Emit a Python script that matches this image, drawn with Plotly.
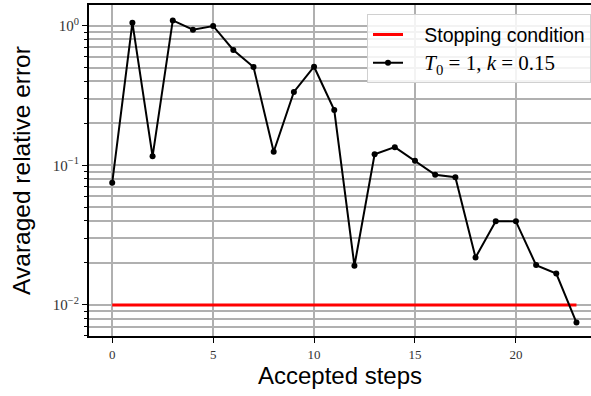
import plotly.graph_objects as go

steps = list(range(24))
errors = [0.075, 1.05, 0.116, 1.09, 0.936, 0.995, 0.67, 0.506, 0.125, 0.335,
          0.508, 0.249, 0.0191, 0.120, 0.135, 0.108, 0.0855, 0.0823, 0.0219,
          0.0398, 0.0397, 0.0193, 0.0168, 0.00748]
stop_x = [0, 23]
stop_y = [0.01, 0.01]
ytick_vals = [0.01, 0.1, 1]
ytick_text = ["10<sup>\u22122</sup>", "10<sup>\u22121</sup>", "10<sup>0</sup>"]
xtick_vals = [0, 5, 10, 15, 20]

serif = "Liberation Serif"
pad = "\u00a0\u00a0\u00a0"
fig = go.Figure()
fig.add_trace(go.Scatter(x=stop_x, y=stop_y, mode="lines",
                         line=dict(color="#ff0000", width=3),
                         name=pad + "Stopping condition", cliponaxis=False))
fig.add_trace(go.Scatter(x=steps, y=errors, mode="lines+markers",
                         line=dict(color="black", width=2),
                         marker=dict(color="black", size=6),
                         name=(pad + "<span style='font-family:Liberation Serif;font-size:21px'>"
                               "<i>T</i><sub>0</sub> = 1, <i>k</i> = 0.15</span>"),
                         cliponaxis=False))

grid = "#b0b0b0"
fig.update_layout(
    width=591, height=396,
    margin=dict(l=89, r=0, t=5, b=60, autoexpand=False),
    plot_bgcolor="white", paper_bgcolor="white",
    showlegend=True,
    legend=dict(x=1.0, y=0.972, xanchor="right", yanchor="top",
                bgcolor="rgba(255,255,255,0.85)", bordercolor="#d0d0d0",
                borderwidth=1, font=dict(family="Liberation Sans", size=19.5, color="black"),
                tracegroupgap=2),
)
fig.update_xaxes(
    range=[-1.15, 23.72], tickvals=xtick_vals, automargin=False,
    showgrid=True, gridcolor=grid, gridwidth=1.5,
    showline=True, linecolor="black", linewidth=2, mirror=True,
    ticks="outside", ticklen=5, tickcolor="black", tickwidth=1.2,
    tickfont=dict(family=serif, size=13, color="#333"),
    zeroline=False,
    title=dict(text="Accepted steps", font=dict(family="Liberation Sans", size=24, color="black"), standoff=6),
)
fig.update_yaxes(
    type="log", range=[-2.222, 0.148], automargin=False,
    tickvals=ytick_vals, ticktext=ytick_text,
    showgrid=True, gridcolor=grid, gridwidth=1.5,
    showline=True, linecolor="black", linewidth=2, mirror=False,
    ticks="outside", ticklen=5, tickcolor="black", tickwidth=1.2,
    tickfont=dict(family=serif, size=15, color="#333"),
    minor=dict(dtick="D1", showgrid=True, gridcolor=grid, gridwidth=1.5,
               ticks="outside", ticklen=3, tickcolor="black"),
    zeroline=False,
    title=dict(text="Avaraged relative error", font=dict(family="Liberation Sans", size=24.5, color="black"), standoff=15),
)
fig.write_html("out.html", config={"displayModeBar": False},
               post_script="document.body.style.margin='0';document.body.style.overflow='hidden';")
